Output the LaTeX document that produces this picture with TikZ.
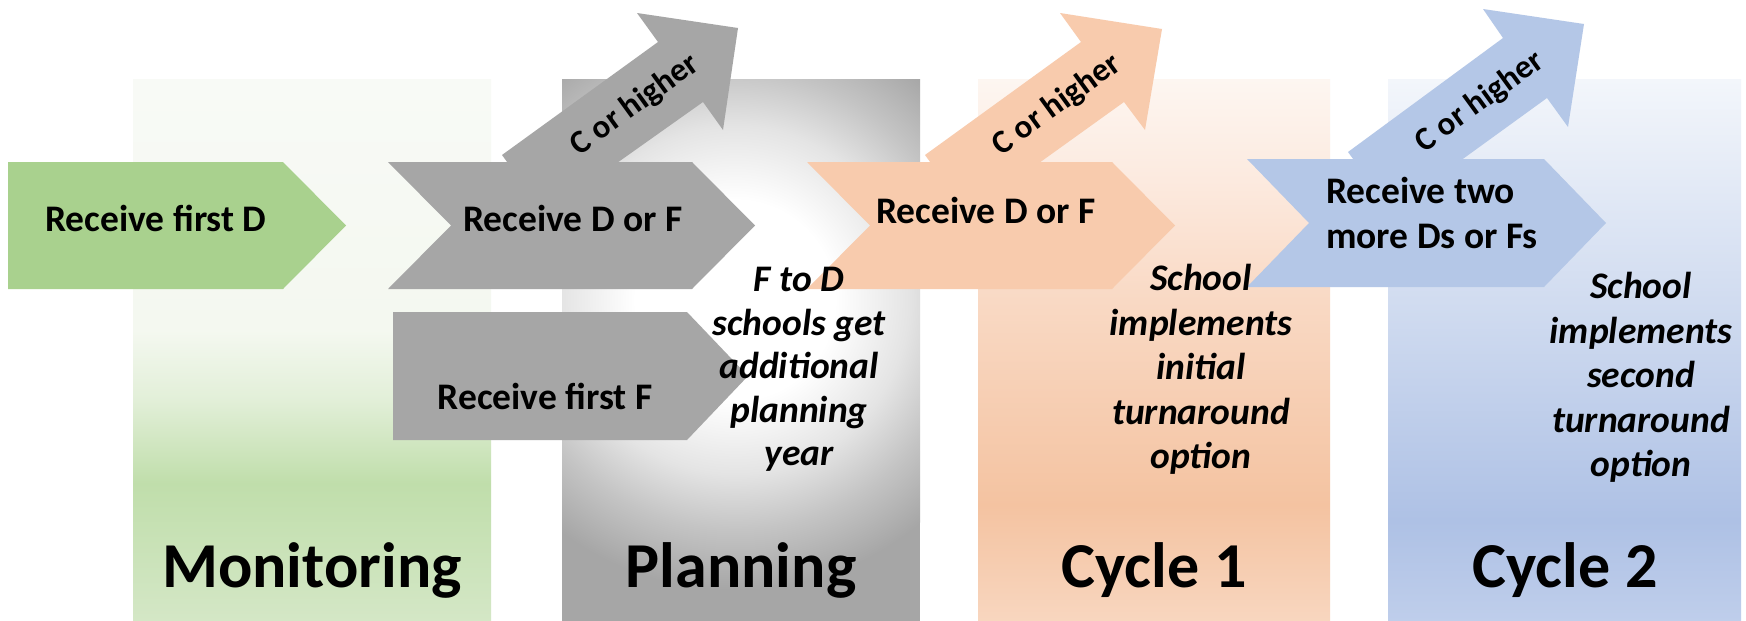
\documentclass[tikz,border=0pt]{standalone}
\usepackage{fontspec}
\setmainfont{Carlito}
\definecolor{grnA}{HTML}{A9D18E}
\definecolor{gryA}{HTML}{A6A6A6}
\definecolor{pchA}{HTML}{F8CBAD}
\definecolor{bluA}{HTML}{B4C7E7}
\definecolor{m0}{HTML}{F8FAF6}
\definecolor{m1}{HTML}{F4F8F0}
\definecolor{m2}{HTML}{E2EFD8}
\definecolor{m3}{HTML}{C0DEAB}
\definecolor{m4}{HTML}{D4E7C6}
\definecolor{c0}{HTML}{FDF6F1}
\definecolor{c1}{HTML}{FCEADF}
\definecolor{c2}{HTML}{F9D9C4}
\definecolor{c3}{HTML}{F4C3A1}
\definecolor{c4}{HTML}{F8D6BF}
\definecolor{b0}{HTML}{F3F6FB}
\definecolor{b1}{HTML}{D1DCF0}
\definecolor{b2}{HTML}{AEC1E5}
\definecolor{b3}{HTML}{BFCEEB}
\definecolor{g1}{HTML}{E4E4E4}
\definecolor{g2}{HTML}{C4C4C4}
\pgfdeclareverticalshading{monshade}{100bp}{color(0bp)=(m4); color(25bp)=(m4); color(37.7bp)=(m3); color(45.4bp)=(m2); color(51.8bp)=(m1); color(75bp)=(m0); color(100bp)=(m0)}
\pgfdeclareverticalshading{cyashade}{100bp}{color(0bp)=(c4); color(25bp)=(c4); color(35.7bp)=(c3); color(54.6bp)=(c2); color(65.7bp)=(c1); color(75bp)=(c0); color(100bp)=(c0)}
\pgfdeclareverticalshading{cybshade}{100bp}{color(0bp)=(b3); color(25bp)=(b3); color(34.3bp)=(b2); color(54.6bp)=(b1); color(75bp)=(b0); color(100bp)=(b0)}
\pgfdeclareradialshading{planshade}{\pgfpoint{0bp}{0bp}}{color(0bp)=(white); color(8.6bp)=(white); color(15bp)=(g1); color(19.8bp)=(g2); color(25bp)=(gryA); color(50bp)=(gryA)}
\begin{document}
\begin{tikzpicture}[x=1pt,y=-1pt,
  lbl/.style={font=\bfseries\fontsize{37.5}{45}\selectfont, inner sep=0pt},
  note/.style={font=\bfseries\itshape\fontsize{37.5}{44.5}\selectfont, align=center, inner sep=0pt},
  phase/.style={font=\bfseries\fontsize{64}{70}\selectfont, inner sep=0pt, anchor=base},
  diagtext/.style={font=\bfseries\fontsize{33}{36}\selectfont, inner sep=0pt, rotate=36}]
\useasboundingbox (0,0) rectangle (1746,621);
\fill[white] (0,0) rectangle (1746,621);
% panels
\shade[shading=monshade] (133,79) rectangle (491,621);
\fill[gryA] (562,79) rectangle (920,621);
\begin{scope}
  \clip (562,79) rectangle (920,621);
  \shade[shading=planshade] (735,300) circle (290pt);
\end{scope}
\shade[shading=cyashade] (978,79) rectangle (1330,621);
\shade[shading=cybshade] (1388,79) rectangle (1741,621);
% diagonal arrows (behind chevrons)
\fill[gryA] (502,155) -- (658,42) -- (637,13) -- (738,28) -- (723,130) -- (703,102) -- (545,214) -- cycle;
\fill[pchA] (925,155) -- (1081,42) -- (1060,13) -- (1162,29) -- (1145,130) -- (1124,102) -- (968,214) -- cycle;
\fill[bluA] (1348,152) -- (1503,38) -- (1483,9) -- (1584,24) -- (1568,127) -- (1547,98) -- (1391,211) -- cycle;
% main arrows
\fill[grnA] (8,162) -- (283,162) -- (346,225.5) -- (283,289) -- (8,289) -- cycle;
\fill[gryA] (388,162) -- (692,162) -- (755,225.5) -- (692,289) -- (388,289) -- (451,225.5) -- cycle;
\fill[gryA] (393,312) -- (687,312) -- (748,376) -- (687,440) -- (393,440) -- cycle;
\fill[pchA] (807,162) -- (1112,162) -- (1175,225.5) -- (1112,289) -- (807,289) -- (870,225.5) -- cycle;
\fill[bluA] (1247,159) -- (1544,159) -- (1606,223) -- (1544,287) -- (1247,287) -- (1309,223) -- cycle;
% texts
\node[lbl, anchor=base] (t1) at (156,231) {Receive first D};
\node[lbl, anchor=base] (t2) at (573,231) {Receive D or F};
\node[lbl, anchor=base] (t3) at (545,409) {Receive first F};
\node[lbl, anchor=base] (t4) at (986,223) {Receive D or F};
\node[lbl, anchor=west, align=left] (t5) at (1326,213) {Receive two\\more Ds or Fs};
\node[diagtext] (d1) at (635,105) {C or higher};
\node[diagtext] (d2) at (1057,105) {C or higher};
\node[diagtext] (d3) at (1480,102) {C or higher};
\node[note, font=\bfseries\itshape\fontsize{37.5}{43.5}\selectfont] (n1) at (799,369.5) {F to D\\schools get\\additional\\planning\\year};
\node[note] (n2) at (1201,369.5) {School\\implements\\initial\\turnaround\\option};
\node[note] (n3) at (1641,377.5) {School\\implements\\second\\turnaround\\option};
\node[phase] (p1) at (312,587) {Monitoring};
\node[phase] (p2) at (741,587) {Planning};
\node[phase] (p3) at (1154,587) {Cycle 1};
\node[phase] (p4) at (1565,587) {Cycle 2};
\end{tikzpicture}
\end{document}
